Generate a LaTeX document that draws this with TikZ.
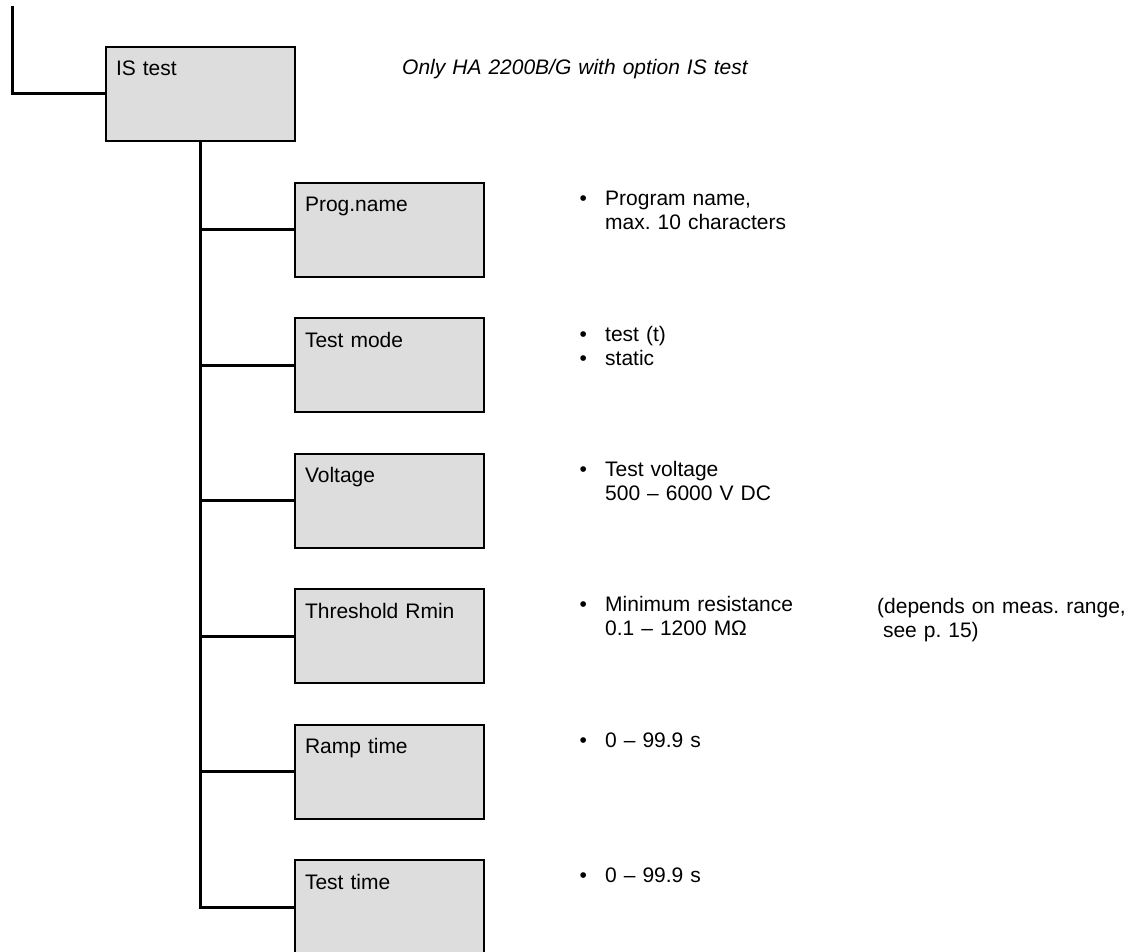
\documentclass[tikz,border=0pt]{standalone}
\usepackage{fontspec}
\setmainfont{Liberation Sans}
\usetikzlibrary{positioning}
\definecolor{menugray}{RGB}{221,221,221}
\newcommand{\menufont}{\fontsize{21}{24}\selectfont\frenchspacing}
\newcommand{\bul}{\makebox[25.7pt][l]{•}}
\newcommand{\nobul}{\hspace*{25.7pt}}

\tikzset{
  menubox/.style={draw, line width=2pt, fill=menugray, outer sep=0pt,
    text width=169pt, inner xsep=10pt, inner ysep=13.5pt,
    text height=15pt, text depth=51pt, minimum height=94pt,
    align=left, font=\menufont},
  menuline/.style={line width=3pt},
  info/.style={anchor=base west, inner sep=0pt, text width=400pt,
    align=left, font=\menufont}
}

\begin{document}
\begin{tikzpicture}[x=1pt, y=-1pt]
\useasboundingbox (0,0) rectangle (1133,952);
% main menu entry
\coordinate (entry) at (12,6);
\node[menubox] (istest) at (200.5,94) {IS test};
\node[info, font=\menufont\itshape] (note) at ([shift={(107pt,-28pt)}]istest.north east)
  {Only HA 2200B/G with option IS test};
% sub menu
\node[menubox, below right=42pt and 0pt of istest] (prog) {Prog.name};
\node[menubox, below=41.4pt of prog] (mode) {Test mode};
\node[menubox, below=41.4pt of mode] (volt) {Voltage};
\node[menubox, below=41.4pt of volt] (rmin) {Threshold Rmin};
\node[menubox, below=41.4pt of rmin] (ramp) {Ramp time};
\node[menubox, below=41.4pt of ramp] (ttime) {Test time};
% connectors
\draw[menuline] (entry) |- (istest.west);
\draw[menuline] (istest.south) |- (ttime.west);
\draw[menuline] (istest.south |- prog.west) -- (prog.west);
\draw[menuline] (istest.south |- mode.west) -- (mode.west);
\draw[menuline] (istest.south |- volt.west) -- (volt.west);
\draw[menuline] (istest.south |- rmin.west) -- (rmin.west);
\draw[menuline] (istest.south |- ramp.west) -- (ramp.west);
% settings
\node[info] (dprog) at ([shift={(95.3pt,-22.5pt)}]prog.north east)
  {\bul Program name,\\\nobul max. 10 characters};
\node[info] (dmode) at ([shift={(95.3pt,-23.5pt)}]mode.north east)
  {\bul test (t)\\\bul static};
\node[info] (dvolt) at ([shift={(95.3pt,-22.5pt)}]volt.north east)
  {\bul Test voltage\\\nobul 500 -- 6000 V DC};
\node[info] (drmin) at ([shift={(95.3pt,-22.5pt)}]rmin.north east)
  {\bul Minimum resistance\\\nobul 0.1 -- 1200 MΩ};
\node[info, text width=256pt] (drange) at (877,613)
  {(depends on meas. range,\\\hspace*{5.8pt}see p. 15)};
\node[info] (dramp) at ([shift={(95.3pt,-22.5pt)}]ramp.north east)
  {\bul 0 -- 99.9 s};
\node[info] (dtime) at ([shift={(95.3pt,-22.5pt)}]ttime.north east)
  {\bul 0 -- 99.9 s};
\end{tikzpicture}
\end{document}
